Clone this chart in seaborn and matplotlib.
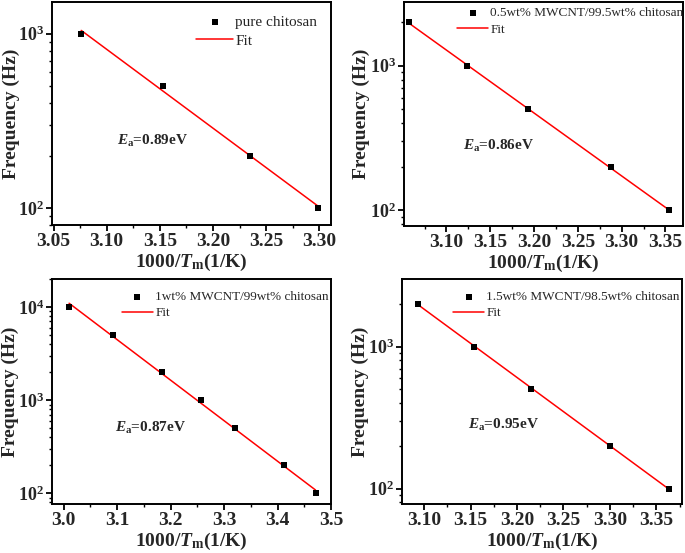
import numpy as np
import pandas as pd
import seaborn as sns
import matplotlib.pyplot as plt
from matplotlib.ticker import MultipleLocator, FuncFormatter, LogLocator

# data (1000/Tm in 1/K, frequency in Hz)
x_pure = [3.076, 3.153, 3.235, 3.299]
f_pure = [1000, 500, 200, 100]

x_05 = [3.057, 3.1235, 3.193, 3.2876, 3.354]
f_05 = [2000, 1000, 500, 200, 100]

x_1 = [3.010, 3.093, 3.183, 3.256, 3.321, 3.412, 3.471]
f_1 = [10000, 5000, 2000, 1000, 500, 200, 100]

x_15 = [3.094, 3.154, 3.2155, 3.2998, 3.364]
f_15 = [2000, 1000, 500, 200, 100]

labels = ['pure chitosan', '0.5wt% MWCNT/99.5wt% chitosan',
          '1wt% MWCNT/99wt% chitosan', '1.5wt% MWCNT/98.5wt% chitosan']
ea_values = ['0.89', '0.86', '0.87', '0.95']

sns.set_theme(style='ticks')
plt.rcParams['font.family'] = ['Liberation Serif', 'DejaVu Serif']
plt.rcParams['mathtext.fontset'] = 'custom'
plt.rcParams['mathtext.rm'] = 'Liberation Serif:bold'
plt.rcParams['mathtext.it'] = 'Liberation Serif:italic:bold'
plt.rcParams['mathtext.bf'] = 'Liberation Serif:bold'

W, H = 685, 553
fig = plt.figure(figsize=(W / 100, H / 100), dpi=100)

# axes boxes in pixels: left, top, right, bottom
boxes = [(52, 2, 331, 225), (404, 2, 683, 226), (52, 279, 331, 504), (402, 279, 682, 504)]
xlims = [(3.0485, 3.311), (3.0516, 3.370), (2.978, 3.50), (3.0763, 3.3775)]
ylims = [(80, 1520), (78, 2760), (77, 20000), (78, 2990)]
xmajor = [0.05, 0.05, 0.1, 0.05]
leg_size = [11, 9.5, 9.5, 9.5]
leg_anchor = [(1.0, 1.0), (1.045, 1.03), (1.035, 1.0), (1.035, 1.0)]
ea_pos = [(0.233, 0.377), (0.211, 0.357), (0.226, 0.338), (0.236, 0.351)]
ylab_x = [-0.116, -0.122, -0.118, -0.118]

series = [(x_pure, f_pure), (x_05, f_05), (x_1, f_1), (x_15, f_15)]

for i, ((xs, fs), box) in enumerate(zip(series, boxes)):
    l, t, r, b = box
    ax = fig.add_axes([l / W, 1 - b / H, (r - l) / W, (b - t) / H])
    df = pd.DataFrame({'x': xs, 'f': fs})

    sns.scatterplot(data=df, x='x', y='f', marker='s', color='black', s=22,
                    linewidth=0, label=labels[i], ax=ax, zorder=3)

    # linear fit of log10(f) against 1000/Tm
    k, c = np.polyfit(df['x'], np.log10(df['f']), 1)
    fit = pd.DataFrame({'x': [df['x'].min(), df['x'].max()]})
    fit['f'] = 10 ** (k * fit['x'] + c)
    sns.lineplot(data=fit, x='x', y='f', color='#ff0000', lw=1.1, label='Fit', ax=ax)

    ax.set_yscale('log')
    ax.set_xlim(*xlims[i])
    ax.set_ylim(*ylims[i])
    ax.xaxis.set_major_locator(MultipleLocator(xmajor[i]))
    ax.xaxis.set_minor_locator(MultipleLocator(xmajor[i] / 2))
    ax.yaxis.set_major_locator(LogLocator(base=10))
    ax.yaxis.set_major_formatter(FuncFormatter(
        lambda v, p: r'$\mathbf{10^{%d}}$' % round(np.log10(v))))
    if i == 2:
        ax.xaxis.set_major_formatter(FuncFormatter(lambda v, p: '%.1f' % v))
    else:
        ax.xaxis.set_major_formatter(FuncFormatter(lambda v, p: '%.2f' % v))

    for s in ax.spines.values():
        s.set_linewidth(1.4)
        s.set_color('black')
    ax.tick_params(which='major', direction='out', length=4, width=1.3,
                   labelsize=14, pad=2, top=False, right=False, color='black')
    ax.tick_params(axis='y', which='major', labelsize=13)
    ax.tick_params(which='minor', direction='out', length=2.5, width=1.0,
                   top=False, right=False, color='black')
    for lab in ax.get_xticklabels() + ax.get_yticklabels():
        lab.set_fontweight('bold')

    ax.set_xlabel(r'1000/$T_\mathbf{m}$(1/K)', fontsize=14, fontweight='bold', labelpad=1)
    ax.set_ylabel('Frequency (Hz)', fontsize=14, fontweight='bold')
    ax.yaxis.set_label_coords(ylab_x[i], 0.5)

    ax.text(ea_pos[i][0], ea_pos[i][1], r'$E_\mathbf{a}$=' + ea_values[i] + 'eV',
            transform=ax.transAxes, fontsize=11, fontweight='bold', va='center')

    ax.legend(loc='upper right', bbox_to_anchor=leg_anchor[i], frameon=False,
              fontsize=leg_size[i], handlelength=2.4, handletextpad=0.15,
              labelspacing=0.3)

fig.savefig('out.png', dpi=100)
